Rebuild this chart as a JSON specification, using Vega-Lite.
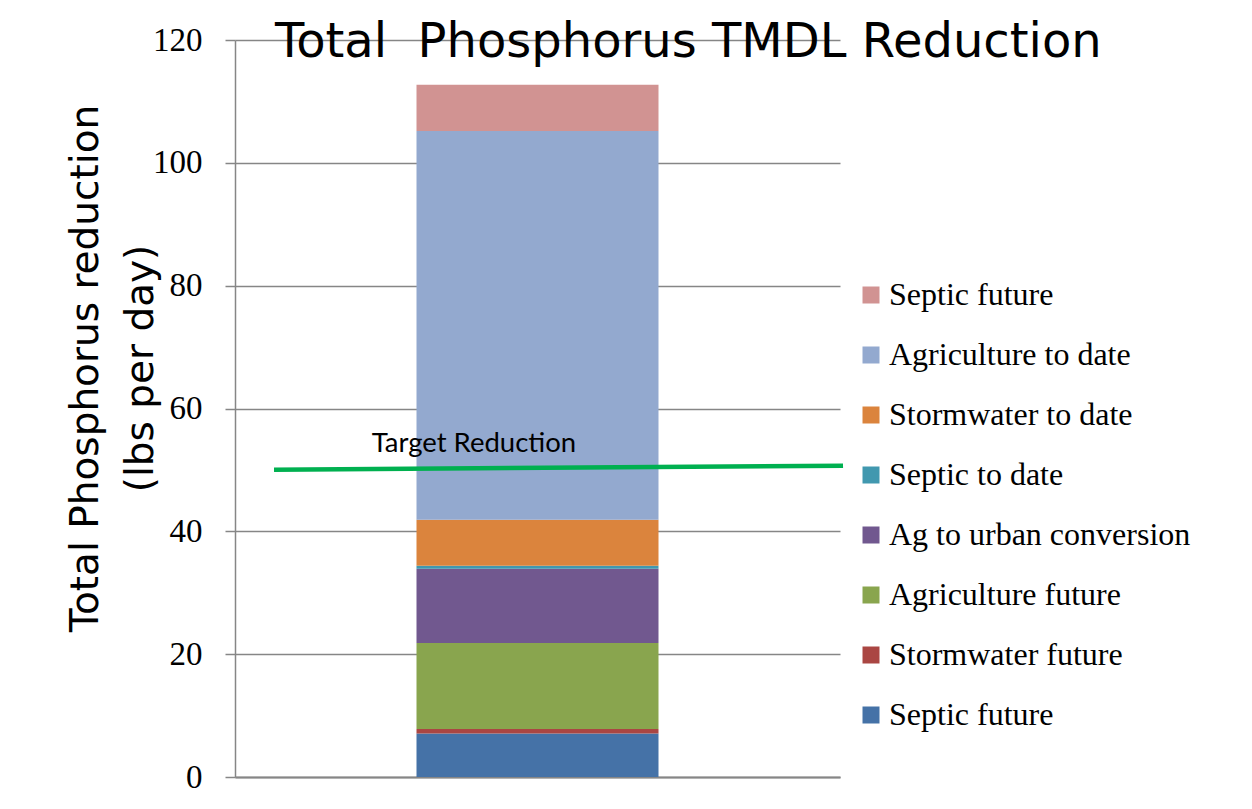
{
  "$schema": "https://vega.github.io/schema/vega-lite/v6.json",
  "width": 605,
  "height": 737,
  "autosize": {"type": "none"},
  "padding": {"left": 235, "top": 40, "right": 412, "bottom": 32},
  "background": "white",
  "config": {"view": {"stroke": null}},
  "title": {
    "text": "Total \u00a0Phosphorus TMDL Reduction",
    "anchor": "start",
    "frame": "group",
    "dx": 40,
    "dy": 81,
    "offset": 0,
    "baseline": "alphabetic",
    "font": "DejaVu Sans",
    "fontSize": 48,
    "fontWeight": "normal",
    "color": "black"
  },
  "layer": [
    {
      "data": {
        "values": [
          {"group": "Total", "source": "Septic future", "stack": 1, "value": 7.1},
          {"group": "Total", "source": "Stormwater future", "stack": 2, "value": 0.7},
          {"group": "Total", "source": "Agriculture future", "stack": 3, "value": 14.0},
          {"group": "Total", "source": "Ag to urban conversion", "stack": 4, "value": 12.1},
          {"group": "Total", "source": "Septic to date", "stack": 5, "value": 0.5},
          {"group": "Total", "source": "Stormwater to date", "stack": 6, "value": 7.5},
          {"group": "Total", "source": "Agriculture to date", "stack": 7, "value": 63.3},
          {"group": "Total", "source": "Septic future*", "stack": 8, "value": 7.5}
        ]
      },
      "mark": {"type": "bar"},
      "encoding": {
        "x": {
          "field": "group",
          "type": "nominal",
          "scale": {"paddingInner": 0.6, "paddingOuter": 0.3},
          "axis": {"labels": false, "ticks": false, "title": null, "domain": true, "domainColor": "#868686", "domainWidth": 2, "grid": false}
        },
        "y": {
          "field": "value",
          "type": "quantitative",
          "stack": "zero",
          "scale": {"domain": [0, 120], "nice": false},
          "axis": {
            "title": ["Total Phosphorus reduction", "(lbs per day)"],
            "titleFont": "DejaVu Sans",
            "titleFontSize": 39,
            "titleFontWeight": "normal",
            "titleColor": "black",
            "titleLineHeight": 55,
            "titleBaseline": "alphabetic",
            "titleAngle": -90,
            "titleAlign": "center",
            "titleX": -138,
            "titleY": 328,
            "values": [0, 20, 40, 60, 80, 100, 120],
            "grid": true,
            "gridColor": "#868686",
            "gridWidth": 1.5,
            "tickColor": "#868686",
            "tickWidth": 1.5,
            "tickSize": 10,
            "domainColor": "#868686",
            "domainWidth": 1.5,
            "labelFont": "Liberation Serif",
            "labelFontSize": 33,
            "labelColor": "black",
            "labelPadding": 23
          }
        },
        "color": {
          "field": "source",
          "type": "nominal",
          "scale": {
            "domain": ["Septic future*", "Agriculture to date", "Stormwater to date", "Septic to date", "Ag to urban conversion", "Agriculture future", "Stormwater future", "Septic future"],
            "range": ["#D19392", "#93A9CF", "#DB843D", "#4198AF", "#71588F", "#89A54E", "#AA4643", "#4572A7"]
          },
          "legend": {
            "orient": "none",
            "legendX": 620,
            "legendY": 239,
            "title": null,
            "symbolType": "square",
            "symbolSize": 289,
            "symbolStrokeWidth": 0,
            "symbolOpacity": 1,
            "labelFont": "Liberation Serif",
            "labelFontSize": 32,
            "labelColor": "black",
            "labelOffset": 2,
            "labelLimit": 400,
            "rowPadding": 28,
            "padding": 0,
            "labelExpr": "replace(datum.label, '*', '')"
          }
        },
        "order": {"field": "stack", "type": "quantitative", "sort": "ascending"}
      }
    },
    {
      "data": {
        "values": [
          {"pos": 0.0645, "value": 50.03, "label": ""},
          {"pos": 1.005, "value": 50.68, "label": ""}
        ]
      },
      "mark": {"type": "line", "color": "#00B050", "strokeWidth": 4.5, "clip": false},
      "encoding": {
        "x": {"field": "pos", "type": "quantitative", "scale": {"domain": [0, 1], "nice": false, "zero": false}, "axis": null},
        "y": {"field": "value", "type": "quantitative"}
      }
    },
    {
      "data": {"values": [{"pos": 0.395, "value": 52.9, "label": "Target Reduction"}]},
      "mark": {"type": "text", "font": "Lato", "fontSize": 27.5, "color": "black", "align": "center", "baseline": "alphabetic"},
      "encoding": {
        "x": {"field": "pos", "type": "quantitative", "scale": {"domain": [0, 1], "nice": false, "zero": false}, "axis": null},
        "y": {"field": "value", "type": "quantitative"},
        "text": {"field": "label", "type": "nominal"}
      }
    }
  ],
  "resolve": {"scale": {"x": "independent"}, "axis": {"x": "independent"}}
}
